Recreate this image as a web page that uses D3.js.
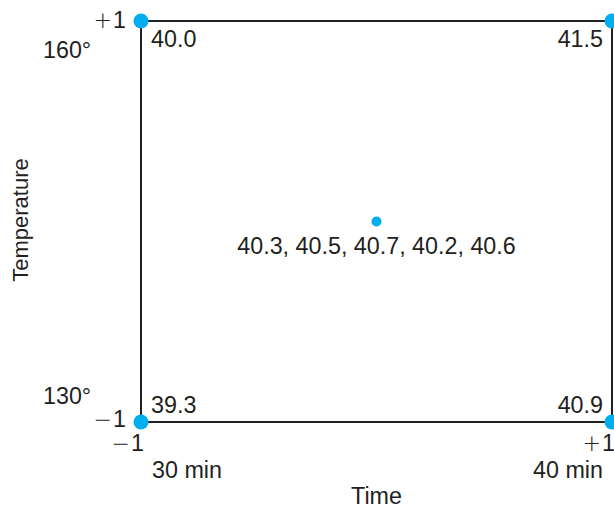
<!DOCTYPE html>
<html><head><meta charset="utf-8">
<script src="https://cdn.jsdelivr.net/npm/d3@7"></script>
<style>html,body{margin:0;padding:0;background:#fff;}svg{display:block;}</style>
</head><body><svg id="c" width="614" height="508"></svg>
<script>
// Design points (coded levels) and responses
const timeCoded = [-1, 1, -1, 1];
const tempCoded = [1, 1, -1, -1];
const cornerResponses = ["40.0", "41.5", "39.3", "40.9"];
const centerResponses = ["40.3", "40.5", "40.7", "40.2", "40.6"];
const timeLevels = ["30 min", "40 min"];
const tempLevels = ["160°", "130°"];
const codedTicks = [-1, 1];

const svg = d3.select("#c");
const font = "'Liberation Sans', Arial, sans-serif";
const fs = 23.3;
const ink = "#231f20";
const blue = "#00aeef";
const x = d3.scaleLinear().domain([-1, 1]).range([141, 612]);
const y = d3.scaleLinear().domain([-1, 1]).range([422, 21]);

// square
svg.append("rect")
  .attr("x", x(-1)).attr("y", y(1))
  .attr("width", x(1) - x(-1)).attr("height", y(-1) - y(1))
  .attr("fill", "none").attr("stroke", ink).attr("stroke-width", 2);

const txt = (xx, yy, s, anchor) => svg.append("text")
  .attr("x", xx).attr("y", yy).attr("text-anchor", anchor || "start")
  .attr("font-family", font).attr("font-size", fs).attr("fill", ink).text(s);

// coded label: thin, wide math sign + digit
const coded = (xx, yy, v) => {
  const t = svg.append("text").attr("x", xx).attr("y", yy).attr("text-anchor", "end")
    .attr("font-family", font).attr("font-size", fs).attr("fill", ink);
  t.append("tspan").attr("font-family", "'DejaVu Sans', sans-serif").attr("font-weight", 200)
    .attr("font-size", fs * 0.95).text(v > 0 ? "+" : "\u2212");
  t.append("tspan").attr("dx", 1).text(Math.abs(v));
};

// corner points
timeCoded.forEach((t, i) => {
  svg.append("circle").attr("cx", x(t)).attr("cy", y(tempCoded[i])).attr("r", 7.5).attr("fill", blue);
  const top = tempCoded[i] > 0;
  const left = t < 0;
  txt(left ? x(t) + 10 : x(t) - 9, top ? y(tempCoded[i]) + 26 : y(tempCoded[i]) - 9,
      cornerResponses[i], left ? "start" : "end");
});

// center point
svg.append("circle").attr("cx", x(0)).attr("cy", y(0)).attr("r", 5).attr("fill", blue);
txt(x(0), y(0) + 32, centerResponses.join(", "), "middle");

// coded labels on vertical (temperature)
coded(x(-1) - 15, y(1) + 7, codedTicks[1]);
coded(x(-1) - 15, y(-1) + 5, codedTicks[0]);
// coded labels on horizontal (time)
coded(x(-1) + 3, y(-1) + 29, codedTicks[0]);
coded(x(1) + 3, y(-1) + 29, codedTicks[1]);

// actual levels
txt(x(-1) + 11, 478, timeLevels[0], "start");
txt(x(1) - 9, 478, timeLevels[1], "end");
txt(43, 58, tempLevels[0], "start");
txt(43, 404, tempLevels[1], "start");

// axis titles
txt(x(0), 504, "Time", "middle");
svg.append("text").attr("transform", "translate(28,220) rotate(-90)")
  .attr("text-anchor", "middle").attr("font-family", font).attr("font-size", 22)
  .attr("fill", ink).text("Temperature");
</script></body></html>
